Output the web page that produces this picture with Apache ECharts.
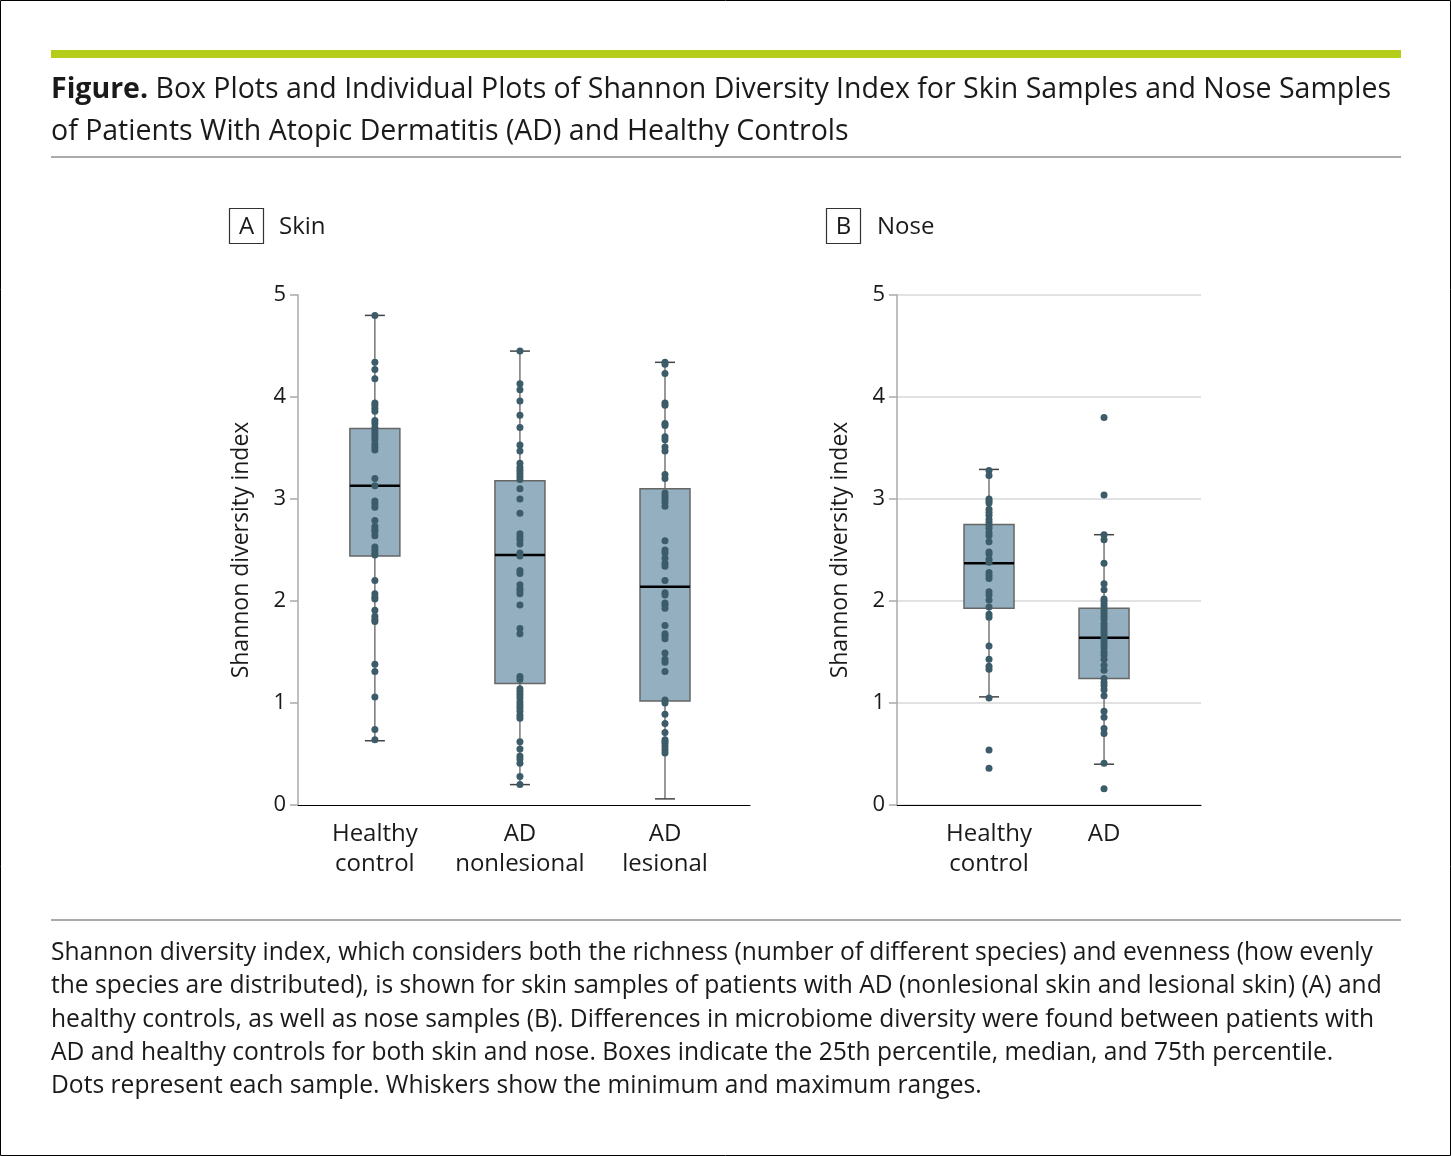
<!DOCTYPE html>
<html>
<head>
<meta charset="utf-8">
<script src="https://cdn.jsdelivr.net/npm/echarts@6/dist/echarts.min.js"></script>
<style>
  html, body { margin: 0; padding: 0; background: #fff; }
  #chart { width: 1451px; height: 1156px; }
</style>
</head>
<body>
<div id="chart"></div>
<script>
// categories
const skinCats = ['Healthy\ncontrol', 'AD\nnonlesional', 'AD\nlesional']
const noseCats = ['Healthy\ncontrol', 'AD']

// box stats: [min, q1, median, q3, max]
const skinBoxes = [
  [0.63, 2.44, 3.13, 3.69, 4.80],
  [0.20, 1.19, 2.45, 3.18, 4.45],
  [0.06, 1.02, 2.14, 3.10, 4.34]
]
const noseBoxes = [
  [1.06, 1.93, 2.37, 2.75, 3.29],
  [0.40, 1.24, 1.64, 1.93, 2.65]
]

// individual samples
const skinHealthy = [4.80, 4.34, 4.27, 4.18, 3.94, 3.92, 3.89, 3.86, 3.77, 3.74, 3.70, 3.67, 3.64, 3.61, 3.58, 3.54, 3.51, 3.48,
  3.20, 3.13, 2.98, 2.95, 2.92, 2.79, 2.73, 2.70, 2.68, 2.64, 2.53, 2.50, 2.47, 2.45,
  2.20, 2.07, 2.04, 2.02, 1.91, 1.85, 1.82, 1.80, 1.38, 1.31, 1.06, 0.74, 0.64]
const skinNonlesional = [4.45, 4.13, 4.07, 3.96, 3.82, 3.70, 3.53, 3.47, 3.35, 3.31, 3.28, 3.25, 3.22, 3.19, 3.10, 3.00, 2.86,
  2.66, 2.63, 2.60, 2.56, 2.47, 2.44, 2.30, 2.27, 2.16, 2.12, 2.10, 2.07, 1.96, 1.73, 1.68, 1.26, 1.23,
  1.14, 1.11, 1.08, 1.05, 1.01, 0.98, 0.95, 0.92, 0.88, 0.85, 0.62, 0.55, 0.48, 0.45, 0.41, 0.28, 0.20]
const skinLesional = [4.34, 4.32, 4.23, 3.94, 3.92, 3.74, 3.72, 3.61, 3.58, 3.51, 3.47, 3.24, 3.20, 3.06, 3.03, 3.00, 2.97, 2.93,
  2.59, 2.50, 2.47, 2.42, 2.37, 2.34, 2.20, 2.08, 2.06, 1.98, 1.96, 1.93, 1.76, 1.68, 1.66, 1.63, 1.49, 1.43, 1.40, 1.31,
  1.03, 1.00, 0.89, 0.80, 0.71, 0.64, 0.62, 0.60, 0.57, 0.54, 0.51]
const noseHealthy = [3.28, 3.23, 3.00, 2.98, 2.96, 2.90, 2.87, 2.84, 2.80, 2.77, 2.74, 2.71, 2.67, 2.64, 2.58, 2.48, 2.46, 2.41, 2.38,
  2.28, 2.25, 2.22, 2.09, 2.06, 2.01, 1.94, 1.87, 1.84, 1.56, 1.43, 1.36, 1.33, 1.05, 0.54, 0.36]
const noseAD = [3.80, 3.04, 2.65, 2.60, 2.37, 2.17, 2.11, 2.02, 2.00, 1.97, 1.94, 1.91, 1.88, 1.85, 1.82, 1.78, 1.75, 1.72, 1.69,
  1.66, 1.63, 1.60, 1.57, 1.54, 1.50, 1.47, 1.43, 1.37, 1.32, 1.24, 1.20, 1.17, 1.13, 1.07, 0.92, 0.86, 0.75, 0.70, 0.41, 0.16]

const yTicks = [0, 1, 2, 3, 4, 5]

const boxFill = '#93afc0'
const dotColor = '#3b5c68'
const textColor = '#1a1a1a'
const font = '"Open Sans", "Noto Sans", sans-serif'

function boxData(stats) {
  return stats.map((s, i) => [i].concat(s))
}
function dotData(groups) {
  const out = []
  groups.forEach((vals, i) => vals.forEach(v => out.push([i, v])))
  return out
}

function renderBox(params, api) {
  const x = api.value(0)
  const pMin = api.coord([x, api.value(1)])
  const pQ1 = api.coord([x, api.value(2)])
  const pMed = api.coord([x, api.value(3)])
  const pQ3 = api.coord([x, api.value(4)])
  const pMax = api.coord([x, api.value(5)])
  const half = 25
  const cap = 10
  const cx = pMed[0]
  return {
    type: 'group',
    children: [
      { type: 'line', shape: { x1: cx, y1: pMax[1], x2: cx, y2: pMin[1] }, style: { stroke: '#555', lineWidth: 1.2 } },
      { type: 'line', shape: { x1: cx - cap, y1: pMax[1], x2: cx + cap, y2: pMax[1] }, style: { stroke: '#444', lineWidth: 1.5 } },
      { type: 'line', shape: { x1: cx - cap, y1: pMin[1], x2: cx + cap, y2: pMin[1] }, style: { stroke: '#444', lineWidth: 1.5 } },
      { type: 'rect', shape: { x: cx - half, y: pQ3[1], width: half * 2, height: pQ1[1] - pQ3[1] }, style: { fill: boxFill, stroke: '#666', lineWidth: 1.5 } },
      { type: 'line', shape: { x1: cx - half, y1: pMed[1], x2: cx + half, y2: pMed[1] }, style: { stroke: '#000', lineWidth: 2.5 } }
    ]
  }
}

function yAxisOpt(idx, showGrid) {
  return {
    type: 'value', gridIndex: idx, min: 0, max: 5, interval: 1,
    name: 'Shannon diversity index', nameLocation: 'middle', nameGap: 45,
    nameTextStyle: { fontSize: 23, color: textColor, fontFamily: font },
    axisLine: { show: true, onZero: false, lineStyle: { color: '#aaa', width: 1.5 } },
    axisTick: { show: true, length: 8, lineStyle: { color: '#aaa', width: 1.5 } },
    axisLabel: { fontSize: 22, color: textColor, fontFamily: font, margin: 12 },
    splitLine: { show: showGrid, lineStyle: { color: '#e2e2e2', width: 2 } }
  }
}

function xAxisOpt(idx, cats, min, max) {
  return {
    type: 'value', gridIndex: idx, min: min, max: max,
    axisLine: { show: true, onZero: false, lineStyle: { color: '#000', width: 1.2 } },
    axisTick: { show: false },
    splitLine: { show: false },
    axisLabel: {
      customValues: cats.map((c, i) => i),
      formatter: v => cats[Math.round(v)] || '',
      fontSize: 24, lineHeight: 30, color: textColor, fontFamily: font, margin: 14
    }
  }
}

const caption = [
  'Shannon diversity index, which considers both the richness (number of different species) and evenness (how evenly',
  'the species are distributed), is shown for skin samples of patients with AD (nonlesional skin and lesional skin) (A) and',
  'healthy controls, as well as nose samples (B). Differences in microbiome diversity were found between patients with',
  'AD and healthy controls for both skin and nose. Boxes indicate the 25th percentile, median, and 75th percentile.',
  'Dots represent each sample. Whiskers show the minimum and maximum ranges.'
].join('\n')

const chart = echarts.init(document.getElementById('chart'))
chart.setOption({
  animation: false,
  backgroundColor: '#fff',
  textStyle: { fontFamily: font },
  title: {
    text: '{b|Figure.} Box Plots and Individual Plots of Shannon Diversity Index for Skin Samples and Nose Samples\nof Patients With Atopic Dermatitis (AD) and Healthy Controls',
    left: 46, top: 64,
    textStyle: {
      fontSize: 28.5, fontWeight: 'normal', color: textColor, fontFamily: font, lineHeight: 42,
      rich: { b: { fontSize: 28.5, fontWeight: 'bold', color: textColor, fontFamily: font, lineHeight: 42 } }
    }
  },
  grid: [
    { left: 298, top: 295, width: 452, height: 510 },
    { left: 897, top: 295, width: 304, height: 510 }
  ],
  xAxis: [
    xAxisOpt(0, skinCats, -0.53, 2.586),
    xAxisOpt(1, noseCats, -0.8, 1.843)
  ],
  yAxis: [yAxisOpt(0, false), yAxisOpt(1, true)],
  series: [
    { type: 'custom', xAxisIndex: 0, yAxisIndex: 0, renderItem: renderBox, data: boxData(skinBoxes), z: 2 },
    { type: 'custom', xAxisIndex: 1, yAxisIndex: 1, renderItem: renderBox, data: boxData(noseBoxes), z: 2 },
    {
      type: 'scatter', xAxisIndex: 0, yAxisIndex: 0, symbolSize: 7, z: 3,
      itemStyle: { color: dotColor, opacity: 1 },
      data: dotData([skinHealthy, skinNonlesional, skinLesional])
    },
    {
      type: 'scatter', xAxisIndex: 1, yAxisIndex: 1, symbolSize: 7, z: 3,
      itemStyle: { color: dotColor, opacity: 1 },
      data: dotData([noseHealthy, noseAD])
    }
  ],
  graphic: [
    { type: 'rect', shape: { x: 0.5, y: 0.5, width: 1450, height: 1155 }, style: { fill: 'none', stroke: '#000', lineWidth: 1 } },
    { type: 'rect', shape: { x: 51, y: 50, width: 1350, height: 8 }, style: { fill: '#b5cc18' } },
    { type: 'rect', shape: { x: 51, y: 156, width: 1350, height: 2 }, style: { fill: '#aaa' } },
    { type: 'rect', shape: { x: 51, y: 919, width: 1350, height: 2 }, style: { fill: '#aaa' } },
    { type: 'rect', shape: { x: 229.5, y: 208.5, width: 34, height: 35 }, style: { fill: 'none', stroke: '#333', lineWidth: 1.2 } },
    { type: 'text', x: 246.5, y: 227, style: { text: 'A', fontSize: 24, fill: textColor, fontFamily: font, align: 'center', verticalAlign: 'middle' } },
    { type: 'text', x: 279, y: 227, style: { text: 'Skin', fontSize: 24, fill: textColor, fontFamily: font, verticalAlign: 'middle' } },
    { type: 'rect', shape: { x: 826.5, y: 208.5, width: 34, height: 35 }, style: { fill: 'none', stroke: '#333', lineWidth: 1.2 } },
    { type: 'text', x: 843.5, y: 227, style: { text: 'B', fontSize: 24, fill: textColor, fontFamily: font, align: 'center', verticalAlign: 'middle' } },
    { type: 'text', x: 877, y: 227, style: { text: 'Nose', fontSize: 24, fill: textColor, fontFamily: font, verticalAlign: 'middle' } },
    { type: 'text', x: 51, y: 936, style: { text: caption, fontSize: 24.6, lineHeight: 33.4, fill: textColor, fontFamily: font } }
  ]
})
</script>
</body>
</html>
